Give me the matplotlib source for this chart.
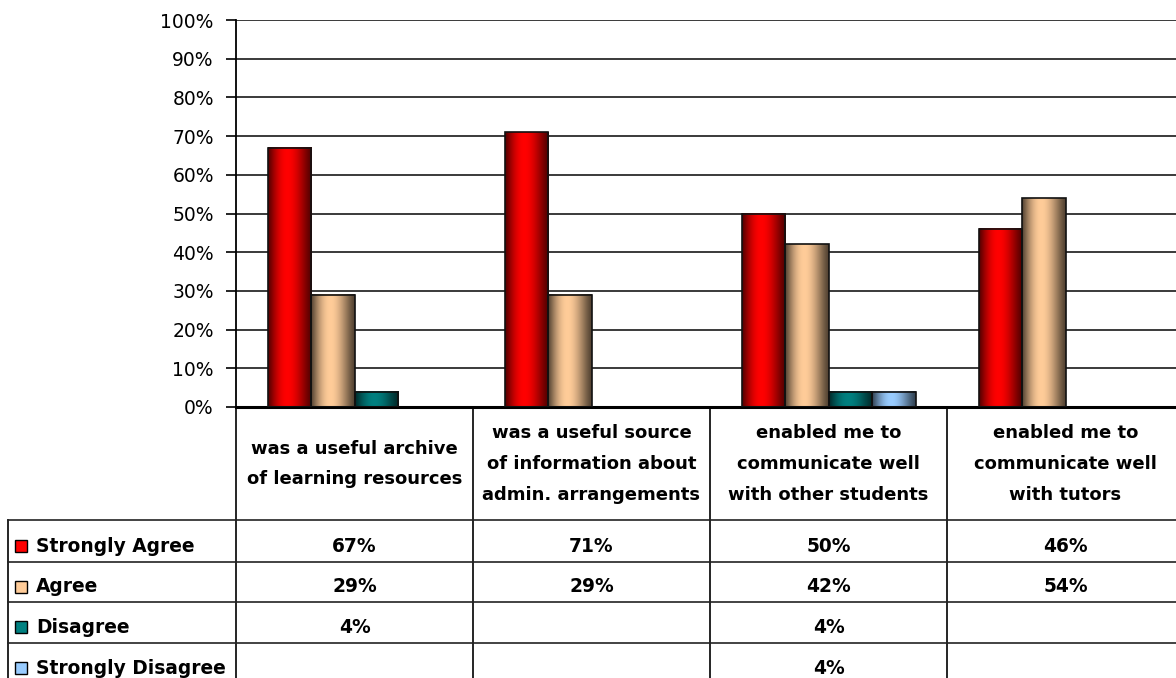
import matplotlib
matplotlib.use('Agg')
import matplotlib.pyplot as plt
import numpy as np
from matplotlib.patches import Rectangle
from matplotlib import transforms

# survey results (percent), None = no response in that category
categories = ['was a useful archive\nof learning resources',
              'was a useful source\nof information about\nadmin. arrangements',
              'enabled me to\ncommunicate well\nwith other students',
              'enabled me to\ncommunicate well\nwith tutors']
series_names = ['Strongly Agree', 'Agree', 'Disagree', 'Strongly Disagree']
strongly_agree = [67, 71, 50, 46]
agree = [29, 29, 42, 54]
disagree = [4, None, 4, None]
strongly_disagree = [None, None, 4, None]
series_values = [strongly_agree, agree, disagree, strongly_disagree]
series_colors = ['#FF0000', '#FFCC99', '#008080', '#99CCFF']
yticks = [0, 10, 20, 30, 40, 50, 60, 70, 80, 90, 100]

W, H = 1176, 678
fig = plt.figure(figsize=(W / 100, H / 100), dpi=100)

# plot area in pixels (left, top, right, bottom); right side runs past the edge
L, T, R, B = 236, 20, 1184, 407
ax = fig.add_axes([L / W, (H - B) / H, (R - L) / W, (B - T) / H])

# gridlines
for v in yticks[1:]:
    ax.axhline(v, color='#3a3a3a', lw=1.4, zorder=1)

bw = 43.5 / 237.0
# cylinder-like shading across each bar: dark edges, bright just left of centre
prof = np.linspace(0, 1, 200)
shade = 0.32 + 0.68 * np.sin(np.pi * np.clip(prof ** 0.85, 0, 1)) ** 1.3
for s, (vals, col) in enumerate(zip(series_values, series_colors)):
    rgb = np.array(matplotlib.colors.to_rgb(col))
    grad = (shade[:, None] * rgb[None, :])[None, :, :]
    for i, v in enumerate(vals):
        if v is None:
            continue
        xc = i + (s - 1.5) * bw
        ax.imshow(grad, extent=(xc - bw / 2, xc + bw / 2, 0, v), aspect='auto',
                  interpolation='bilinear', zorder=2)
        ax.bar(xc, v, width=bw, fill=False, edgecolor='#111111', lw=1.2, zorder=3)

ax.set_xlim(-0.5, len(categories) - 0.5)
ax.set_ylim(0, 100)
ax.set_yticks(yticks)
ax.set_yticklabels([f'{v}%' for v in yticks], fontsize=13.5, family='DejaVu Sans')
ax.tick_params(axis='y', length=7, width=1.2, color='black', pad=9)
ax.set_xticks([])
for side in ['top', 'right']:
    ax.spines[side].set_visible(False)
ax.spines['left'].set_linewidth(1.3)
ax.spines['bottom'].set_linewidth(2.2)
ax.patch.set_alpha(0)

# data table underneath, drawn in pixel coordinates
tab = fig.add_axes([0, 0, 1, 1])
tab.set_xlim(0, W)
tab.set_ylim(H, 0)
tab.axis('off')
mix = transforms.blended_transform_factory(ax.transData, tab.transData)

header_bottom = 520
row_lines = [520, 562, 602, 643, 684]
bold = dict(fontsize=13.4, fontweight='bold', family='DejaVu Sans', color='black')

# column borders
for k in range(len(categories) + 1):
    xb = k - 0.5
    tab.plot([xb, xb], [B, H], transform=mix, color='black', lw=1.2, clip_on=False)
tab.plot([8, 8], [header_bottom, H], color='black', lw=1.2)
for y in row_lines[:-1]:
    tab.plot([8, W], [y, y], color='#222222', lw=1.2)

# category headers
for i, c in enumerate(categories):
    tab.text(i, 464, c, transform=mix, ha='center', va='center',
             linespacing=1.9, **{**bold, 'fontsize': 13.0})

# rows: legend key, name, values
for r, (name, vals, col) in enumerate(zip(series_names, series_values, series_colors)):
    yc = (row_lines[r] + row_lines[r + 1]) / 2 + 5
    tab.add_patch(Rectangle((15, yc - 6.5), 12, 12, facecolor=col,
                            edgecolor='black', lw=1.0))
    tab.text(36, yc, name, ha='left', va='center', **bold)
    for i, v in enumerate(vals):
        if v is None:
            continue
        tab.text(i, yc, f'{v}%', transform=mix, ha='center', va='center', **bold)

fig.savefig('out.png', dpi=100)
